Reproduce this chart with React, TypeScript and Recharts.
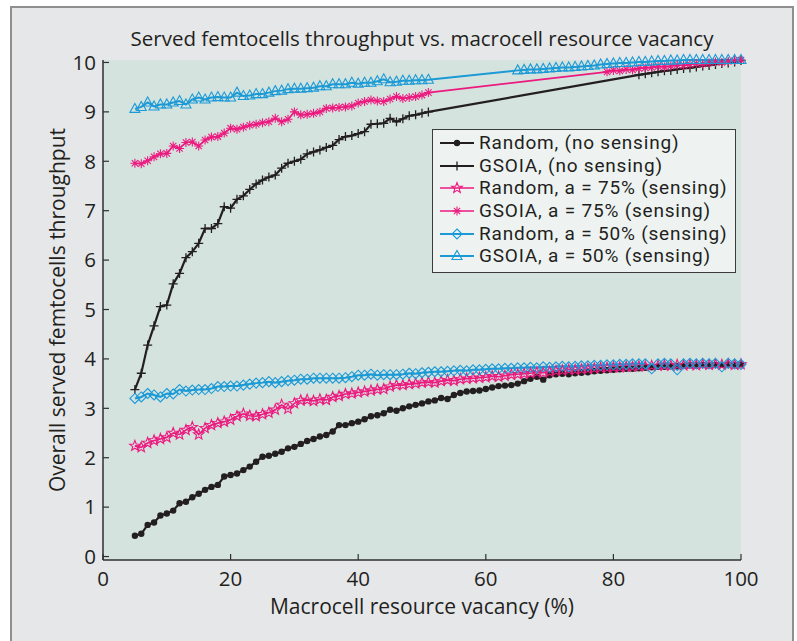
import React from 'react'
import { LineChart, Line, XAxis, YAxis, CartesianGrid, Legend } from 'recharts'

// macrocell resource vacancy (%)
const vacancy = [
  5, 6, 7, 8, 9, 10, 11, 12, 13, 14, 15, 16, 17, 18, 19, 20, 21, 22, 23, 24,
  25, 26, 27, 28, 29, 30, 31, 32, 33, 34, 35, 36, 37, 38, 39, 40, 41, 42, 43, 44,
  45, 46, 47, 48, 49, 50, 51, 52, 53, 54, 55, 56, 57, 58, 59, 60, 61, 62, 63, 64,
  65, 66, 67, 68, 69, 70, 71, 72, 73, 74, 75, 76, 77, 78, 79, 80, 81, 82, 83, 84,
  85, 86, 87, 88, 89, 90, 91, 92, 93, 94, 95, 96, 97, 98, 99, 100,
]

const randomNoSensing = [
  0.42, 0.46, 0.64, 0.69, 0.83, 0.87, 0.93, 1.08, 1.11, 1.2, 1.27, 1.35, 1.41, 1.45,
  1.62, 1.65, 1.68, 1.75, 1.82, 1.92, 2.02, 2.04, 2.08, 2.12, 2.19, 2.22, 2.28, 2.34,
  2.38, 2.43, 2.46, 2.53, 2.66, 2.66, 2.7, 2.73, 2.78, 2.84, 2.86, 2.9, 2.97, 2.95,
  3.0, 3.04, 3.07, 3.1, 3.14, 3.16, 3.21, 3.19, 3.27, 3.31, 3.34, 3.35, 3.36, 3.39,
  3.42, 3.45, 3.46, 3.47, 3.5, 3.55, 3.6, 3.64, 3.58, 3.67, 3.69, 3.7, 3.69, 3.71,
  3.72, 3.73, 3.75, 3.76, 3.77, 3.78, 3.79, 3.8, 3.8, 3.81, 3.82, 3.83, 3.84, 3.84,
  3.85, 3.86, 3.86, 3.87, 3.87, 3.88, 3.87, 3.88, 3.88, 3.89, 3.88, 3.89,
]

// GSOIA without sensing: measured for 5..51 and 84..100
const gsoiaNoSensingLow = [
  3.38, 3.71, 4.28, 4.67, 5.06, 5.09, 5.52, 5.73, 6.05, 6.17, 6.34, 6.64, 6.64, 6.74,
  7.08, 7.05, 7.23, 7.3, 7.43, 7.54, 7.62, 7.68, 7.72, 7.86, 7.96, 8.0, 8.04, 8.15,
  8.19, 8.23, 8.28, 8.32, 8.44, 8.5, 8.52, 8.56, 8.6, 8.75, 8.76, 8.77, 8.87, 8.8,
  8.86, 8.92, 8.94, 8.97, 9.0,
]
const gsoiaNoSensingHigh = [
  9.75, 9.77, 9.79, 9.81, 9.83, 9.84, 9.86, 9.88, 9.89, 9.91, 9.93, 9.94, 9.96, 9.98,
  9.99, 10.01, 10.04,
]

const random75 = [
  2.24, 2.21, 2.3, 2.35, 2.38, 2.41, 2.5, 2.47, 2.56, 2.62, 2.47, 2.6, 2.66, 2.7,
  2.73, 2.77, 2.84, 2.89, 2.85, 2.84, 2.88, 2.91, 2.97, 3.07, 2.99, 3.1, 3.16, 3.17,
  3.15, 3.18, 3.17, 3.23, 3.25, 3.29, 3.3, 3.32, 3.34, 3.36, 3.38, 3.39, 3.44, 3.47,
  3.47, 3.49, 3.5, 3.52, 3.53, 3.52, 3.55, 3.57, 3.56, 3.59, 3.6, 3.61, 3.62, 3.63,
  3.65, 3.64, 3.66, 3.68, 3.69, 3.7, 3.71, 3.73, 3.72, 3.74, 3.76, 3.77, 3.78, 3.78,
  3.79, 3.8, 3.81, 3.82, 3.82, 3.83, 3.83, 3.84, 3.84, 3.85, 3.85, 3.86, 3.86, 3.87,
  3.86, 3.88, 3.87, 3.88, 3.87, 3.89, 3.88, 3.89, 3.88, 3.89, 3.88, 3.89,
]

// GSOIA a = 75%: measured for 5..51 and 79..100
const gsoia75Low = [
  7.96, 7.95, 8.01, 8.09, 8.15, 8.16, 8.31, 8.26, 8.38, 8.39, 8.31, 8.43, 8.49, 8.5,
  8.57, 8.67, 8.65, 8.69, 8.73, 8.75, 8.78, 8.8, 8.87, 8.8, 8.85, 9.0, 8.94, 8.95,
  8.97, 9.0, 9.07, 9.08, 9.09, 9.1, 9.12, 9.18, 9.21, 9.24, 9.22, 9.21, 9.26, 9.31,
  9.27, 9.29, 9.31, 9.34, 9.39,
]
const gsoia75High = [
  9.81, 9.84, 9.83, 9.86, 9.85, 9.88, 9.89, 9.9, 9.92, 9.91, 9.93, 9.95, 9.94, 9.96,
  9.98, 9.97, 9.99, 10.01, 10.0, 10.02, 10.04, 10.05,
]

const random50 = [
  3.2, 3.23, 3.3, 3.27, 3.23, 3.3, 3.29, 3.38, 3.35, 3.37, 3.38, 3.38, 3.4, 3.44,
  3.44, 3.45, 3.45, 3.47, 3.49, 3.51, 3.52, 3.54, 3.52, 3.54, 3.56, 3.57, 3.59, 3.59,
  3.61, 3.61, 3.61, 3.61, 3.61, 3.62, 3.64, 3.67, 3.67, 3.69, 3.67, 3.68, 3.68, 3.68,
  3.69, 3.71, 3.7, 3.72, 3.73, 3.74, 3.74, 3.75, 3.76, 3.77, 3.76, 3.78, 3.78, 3.79,
  3.8, 3.8, 3.81, 3.81, 3.82, 3.82, 3.83, 3.82, 3.84, 3.83, 3.84, 3.85, 3.84, 3.85,
  3.86, 3.86, 3.87, 3.87, 3.88, 3.88, 3.89, 3.89, 3.9, 3.9, 3.9, 3.8, 3.9, 3.91,
  3.9, 3.78, 3.9, 3.91, 3.9, 3.91, 3.9, 3.91, 3.84, 3.91, 3.9, 3.89,
]

// GSOIA a = 50%: measured for 5..51 and 65..100
const gsoia50Low = [
  9.06, 9.1, 9.19, 9.11, 9.15, 9.15, 9.19, 9.22, 9.15, 9.25, 9.29, 9.25, 9.29, 9.3,
  9.29, 9.29, 9.39, 9.32, 9.33, 9.36, 9.36, 9.39, 9.42, 9.43, 9.46, 9.47, 9.47, 9.48,
  9.49, 9.52, 9.52, 9.56, 9.56, 9.56, 9.59, 9.57, 9.59, 9.59, 9.62, 9.66, 9.6, 9.61,
  9.63, 9.63, 9.64, 9.64, 9.65,
]
const gsoia50High = [
  9.84, 9.85, 9.86, 9.86, 9.87, 9.88, 9.89, 9.9, 9.9, 9.91, 9.92, 9.93, 9.94, 9.96,
  9.97, 9.98, 9.99, 9.99, 10.0, 10.01, 10.01, 10.02, 10.03, 10.03, 10.04, 10.04, 10.05,
  10.05, 10.05, 10.05, 10.05, 10.05, 10.05, 10.05, 10.05, 10.05,
]

const xTicks = [0, 20, 40, 60, 80, 100]
const yTicks = [0, 1, 2, 3, 4, 5, 6, 7, 8, 9, 10]

const BLACK = '#231f20'
const PINK = '#ec1a7f'
const BLUE = '#1b9ad6'
const FONT = '"Open Sans", sans-serif'
const LEGEND_FONT = 'Roboto, "Open Sans", sans-serif'

// two measured runs with an unmeasured gap in between (line connects them)
const split = (x: number, low: number[], high: number[], highStart: number) => {
  if (x < 5 + low.length) return low[x - 5]
  if (x >= highStart) return high[x - highStart]
  return null
}

const data = vacancy.map((x, i) => ({
  x,
  rndNo: randomNoSensing[i],
  gsNo: split(x, gsoiaNoSensingLow, gsoiaNoSensingHigh, 84),
  rnd75: random75[i],
  gs75: split(x, gsoia75Low, gsoia75High, 79),
  rnd50: random50[i],
  gs50: split(x, gsoia50Low, gsoia50High, 65),
}))

type Shape = 'circle' | 'plus' | 'star' | 'asterisk' | 'diamond' | 'triangle'

const marker = (shape: Shape, cx: number, cy: number, color: string, key?: any) => {
  switch (shape) {
    case 'circle':
      return <circle key={key} cx={cx} cy={cy} r={3.2} fill={color} stroke="none" />
    case 'plus':
      return (
        <path key={key} d={`M${cx - 4.5},${cy}H${cx + 4.5}M${cx},${cy - 4.5}V${cy + 4.5}`}
          stroke={color} strokeWidth={1.3} fill="none" />
      )
    case 'asterisk': {
      const r = 4.5
      const d = r * 0.707
      return (
        <path key={key}
          d={`M${cx - r},${cy}H${cx + r}M${cx},${cy - r}V${cy + r}M${cx - d},${cy - d}L${cx + d},${cy + d}M${cx - d},${cy + d}L${cx + d},${cy - d}`}
          stroke={color} strokeWidth={1.1} fill="none" />
      )
    }
    case 'star': {
      const pts: string[] = []
      for (let k = 0; k < 10; k++) {
        const rr = k % 2 === 0 ? 5.5 : 2.3
        const a = -Math.PI / 2 + (k * Math.PI) / 5
        pts.push(`${cx + rr * Math.cos(a)},${cy + rr * Math.sin(a)}`)
      }
      return <polygon key={key} points={pts.join(' ')} fill="none" stroke={color} strokeWidth={1.1} />
    }
    case 'diamond':
      return (
        <polygon key={key} points={`${cx},${cy - 5} ${cx + 5},${cy} ${cx},${cy + 5} ${cx - 5},${cy}`}
          fill="none" stroke={color} strokeWidth={1.1} />
      )
    case 'triangle':
      return (
        <polygon key={key} points={`${cx},${cy - 5.5} ${cx + 5},${cy + 3.5} ${cx - 5},${cy + 3.5}`}
          fill="none" stroke={color} strokeWidth={1.1} />
      )
  }
}

const dotFor = (shape: Shape, color: string) => (props: any) => {
  const { cx, cy, value, index } = props
  if (value == null || cy == null || cx == null) return <g key={`e-${index}`} />
  return marker(shape, cx, cy, color, `m-${index}`)
}

const series = [
  { key: 'rndNo', name: 'Random, (no sensing)', color: BLACK, shape: 'circle' as Shape, width: 2.2 },
  { key: 'gsNo', name: 'GSOIA, (no sensing)', color: BLACK, shape: 'plus' as Shape, width: 2.2 },
  { key: 'rnd75', name: 'Random, a = 75% (sensing)', color: PINK, shape: 'star' as Shape, width: 1.6 },
  { key: 'gs75', name: 'GSOIA, a = 75% (sensing)', color: PINK, shape: 'asterisk' as Shape, width: 1.6 },
  { key: 'rnd50', name: 'Random, a = 50% (sensing)', color: BLUE, shape: 'diamond' as Shape, width: 2 },
  { key: 'gs50', name: 'GSOIA, a = 50% (sensing)', color: BLUE, shape: 'triangle' as Shape, width: 2 },
]

const renderLegend = () => (
  <div
    style={{
      width: 304,
      height: 144,
      boxSizing: 'border-box',
      border: '1.5px solid #3b3b3b',
      background: '#eef3f2',
      padding: '2px 0 0 6px',
      fontFamily: LEGEND_FONT,
    }}
  >
    {series.map((s) => (
      <div key={s.key} style={{ display: 'flex', alignItems: 'center', height: 22.6 }}>
        <svg width={36} height={20} style={{ flex: 'none' }}>
          <line x1={1} x2={35} y1={10} y2={10} stroke={s.color} strokeWidth={s.width} />
          {marker(s.shape, 18, 10, s.color)}
        </svg>
        <span
          style={{
            marginLeft: 4,
            fontSize: 19,
            letterSpacing: 0.8,
            color: BLACK,
            whiteSpace: 'nowrap',
            lineHeight: '22px',
          }}
        >
          {s.name}
        </span>
      </div>
    ))}
  </div>
)

const tickStyle = { fill: BLACK, fontSize: 20.5, fontFamily: FONT }

export default function App() {
  return (
    <div style={{ position: 'absolute', left: 0, top: 0, width: 797, height: 641, overflow: 'hidden', background: '#fff' }}>
      <div
        style={{
          position: 'absolute',
          left: 10,
          top: 6,
          width: 784,
          height: 660,
          boxSizing: 'border-box',
          border: '2px solid #8f8f8f',
          background: '#e6e7e9',
        }}
      />
      <div
        style={{
          position: 'absolute',
          left: 0,
          top: 24,
          width: 844,
          textAlign: 'center',
          fontFamily: FONT,
          fontSize: 20.5,
          color: BLACK,
          whiteSpace: 'nowrap',
        }}
      >
        Served femtocells throughput vs. macrocell resource vacancy
      </div>
      <div style={{ position: 'absolute', left: 0, top: 0 }}>
        <LineChart width={797} height={641} data={data} margin={{ top: 60, right: 56, bottom: 51, left: 13 }}>
          <CartesianGrid horizontal={false} vertical={false} fill="#d5e3df" />
          <XAxis
            dataKey="x"
            type="number"
            domain={[0, 100]}
            ticks={xTicks}
            height={30}
            tick={tickStyle}
            tickSize={-6}
            tickMargin={17}
            axisLine={{ stroke: '#2f2f2f', strokeWidth: 1.5 }}
            tickLine={{ stroke: '#2f2f2f', strokeWidth: 1.2 }}
            label={{ value: 'Macrocell resource vacancy (%)', position: 'bottom', offset: 9, fill: BLACK, fontSize: 21, fontFamily: FONT }}
          />
          <XAxis
            xAxisId="top"
            orientation="top"
            dataKey="x"
            type="number"
            domain={[0, 100]}
            allowDataOverflow
            ticks={xTicks}
            height={0}
            tick={false}
            tickSize={-6}
            axisLine={{ stroke: '#2f2f2f', strokeWidth: 1.5 }}
            tickLine={{ stroke: '#2f2f2f', strokeWidth: 1.2 }}
          />
          <YAxis
            type="number"
            domain={[-0.07, 10.05]}
            ticks={yTicks}
            width={90}
            tick={tickStyle}
            tickSize={-6}
            tickMargin={13}
            axisLine={{ stroke: '#2f2f2f', strokeWidth: 1.5 }}
            tickLine={{ stroke: '#2f2f2f', strokeWidth: 1.2 }}
            label={{ value: 'Overall served femtocells throughput', angle: -90, position: 'center', fill: BLACK, fontSize: 21, fontFamily: FONT }}
          />
          <YAxis
            yAxisId="right"
            orientation="right"
            type="number"
            domain={[-0.07, 10.05]}
            allowDataOverflow
            ticks={yTicks}
            width={0}
            tick={false}
            tickSize={-6}
            axisLine={{ stroke: '#2f2f2f', strokeWidth: 1.5 }}
            tickLine={{ stroke: '#2f2f2f', strokeWidth: 1.2 }}
          />
          {series.map((s) => (
            <Line
              key={s.key}
              dataKey={s.key}
              name={s.name}
              type="linear"
              stroke={s.color}
              strokeWidth={s.width}
              dot={dotFor(s.shape, s.color)}
              activeDot={false}
              connectNulls
              isAnimationActive={false}
            />
          ))}
          <Legend
            layout="vertical"
            align="center"
            verticalAlign="middle"
            content={renderLegend}
            wrapperStyle={{ left: 432, top: 129, width: 304, height: 144 }}
          />
        </LineChart>
      </div>
    </div>
  )
}
